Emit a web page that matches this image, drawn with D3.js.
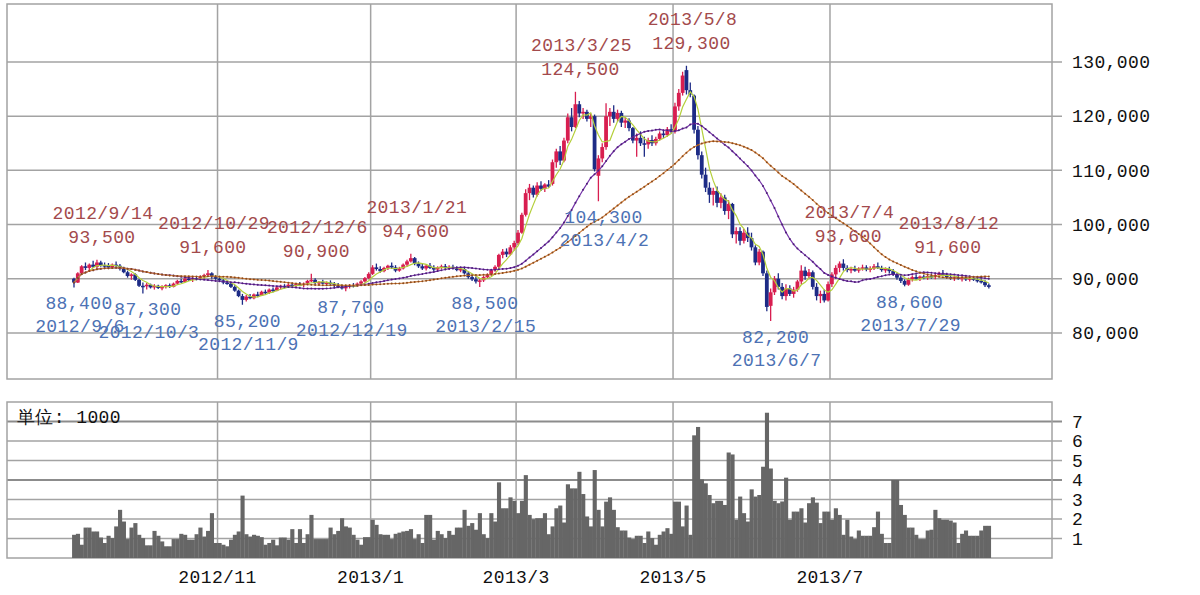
<!DOCTYPE html>
<html>
<head>
<meta charset="utf-8">
<script src="https://cdn.jsdelivr.net/npm/d3@7"></script>
<style>
body { margin: 0; background: #fff; }
svg { display: block; }
text { font-family: "Liberation Mono", "DejaVu Sans Mono", monospace; font-size: 18px; letter-spacing: 0.4px; }
</style>
</head>
<body>
<svg id="chart" width="1200" height="595"><g></g></svg>
<script>
// daily prices (yen), first trading day 2012/9/6
var opens = [
90000,89300,91000,92300,92000,92600,92200,93000,92500,92400,
92100,92600,92400,91800,91200,90500,90800,89800,88700,88600,
88900,88400,88700,88300,88500,88800,88500,89100,89600,89400,
90000,89800,90100,89900,90400,90700,91000,90300,90000,89700,
89300,89100,88500,87800,86800,86100,86700,86400,87100,86900,
87600,87400,88000,87800,88400,88700,88400,88900,88700,89000,
88800,89100,89600,89800,89200,89400,89100,89300,89000,88800,
88500,88300,88500,88800,88600,89100,89500,90100,90900,92100,
91800,91400,92000,92400,92100,91500,91900,92600,93200,93800,
92800,92300,91900,92400,92000,91700,92100,92300,92000,92200,
91900,91600,91800,91000,90300,89900,89500,89700,90300,90800,
91600,92200,94400,95000,94500,95800,96600,98500,101800,105800,
106800,105500,107200,106600,107400,107500,111500,113500,111800,115500,
119800,118000,122200,120500,120800,119500,120000,109000,112200,114300,
120000,120800,119500,120600,118800,119200,117800,115500,116000,115000,
114800,115600,115000,115800,116800,116500,117600,117200,121800,124300,
128500,124800,123800,117500,112800,109200,106800,105500,106200,104000,
105000,102500,103800,98200,98800,97000,98500,97500,95800,93000,
95000,91000,85000,87500,90000,88500,86800,88200,87200,88000,
89500,91500,90500,91200,88500,86800,87200,86000,89000,90800,
92000,92800,92000,91600,91800,91500,91900,92100,91700,91900,
92300,92000,91600,91800,91400,90800,90200,89600,88900,89900,
90300,90100,90400,90200,90500,90300,90700,91000,90800,90300,
90100,90300,90000,90200,89900,90100,89800,89600,89400,88800]
var highs = [
90200,91200,92500,93000,92800,93300,93500,93300,93000,92900,
92800,93200,92700,92200,91500,91000,91000,90000,89300,89200,
89100,89000,88900,88800,89000,89100,89300,89800,90000,90200,
90500,90300,90400,90600,90900,91600,91200,90700,90400,90000,
89600,89400,88800,88000,87200,87000,87200,87300,87600,87800,
88000,88200,88400,88600,88900,89000,89100,89300,89200,89400,
89300,89800,90900,90100,89600,89800,89500,89700,89400,89200,
88900,88700,89000,89200,89300,89700,90300,91200,92500,92800,
92300,92200,92600,93000,92500,92200,92800,93500,94600,94000,
93200,92700,92600,92900,92500,92300,92600,92700,92500,92600,
92300,92100,92000,91400,90800,90400,90000,90500,91000,91800,
92500,94600,95500,95600,96200,97000,99000,102200,106500,107500,
107200,107800,108000,107600,108200,112000,114000,114500,116000,120500,
121500,124500,122800,121500,121200,120500,120300,112800,115000,122400,
121500,122000,121200,121000,119800,119600,118000,116800,117200,116200,
116000,116500,116200,117200,117500,118000,118500,122500,125000,128200,
129300,126200,124000,118200,113500,110500,107800,106800,107000,105800,
105500,104500,104000,99500,99500,99200,99500,98500,96200,95500,
95200,91500,88200,90500,91000,89200,89000,88800,88500,89800,
92500,92200,91800,91500,89200,87800,88000,89500,91200,92500,
93200,93600,92500,92200,92400,92100,92600,92500,92300,92700,
93000,92400,92100,92200,91800,91000,90500,89900,90200,90600,
90800,90600,90700,90800,90900,91000,91300,91600,91100,90700,
90500,90600,90400,90500,90400,90400,90200,90000,89700,89100]
var lows = [
88400,89200,90800,91600,91500,92000,92000,92200,92100,91800,
91900,92200,91500,91000,90200,89800,89600,88500,87300,88000,
88200,88000,88100,87900,88200,88300,88400,88900,89200,89300,
89600,89400,89700,89800,90000,90500,90000,89800,89500,89000,
88900,88300,87600,86600,85200,85800,86200,86200,86600,86800,
87100,87200,87500,87700,88000,88200,88300,88500,88400,88600,
88500,88900,89400,89000,88800,89000,88700,88900,88500,88300,
88000,87700,88200,88400,88500,88900,89300,89900,90700,91500,
91100,91200,91600,91800,91200,91300,91700,92200,93000,92500,
92000,91600,91500,91800,91400,91400,91800,91800,91600,91700,
91400,91200,90800,90000,89600,89100,88500,89400,90000,90500,
91300,92000,93800,94000,94300,95200,96200,98300,101500,104500,
105000,105200,106200,106000,106800,107200,110500,111000,111500,115000,
117200,117800,119800,119500,119000,118000,109800,104300,111500,113800,
118200,118800,119000,118000,117800,117200,115000,112500,114500,112500,
114000,114500,114600,115500,116000,116200,116800,116800,121000,123800,
124000,123500,116800,112000,108500,106000,104000,103500,103200,103000,
101800,101000,97500,96500,96200,96500,96800,95200,92500,92500,
90500,84000,82200,87000,88000,86200,86000,86800,86500,87600,
89000,89800,90000,88000,86000,85500,85600,85800,88500,90000,
91200,91500,91200,91000,91300,91100,91500,91400,91200,91600,
91800,91300,91100,91000,90500,89800,89200,88600,88700,89500,
89800,89600,89900,89800,90000,89900,90300,90500,90000,89800,
89600,89800,89500,89600,89500,89600,89300,89100,88500,88200]
var closes = [
89300,91000,92300,92000,92600,92200,93000,92500,92400,92100,
92600,92400,91800,91200,90500,90800,89800,88700,88600,88900,
88400,88700,88300,88500,88800,88500,89100,89600,89400,90000,
89800,90100,89900,90400,90700,91000,90300,90000,89700,89300,
89100,88500,87800,86800,86100,86700,86400,87100,86900,87600,
87400,88000,87800,88400,88700,88400,88900,88700,89000,88800,
89100,89600,89800,89200,89400,89100,89300,89000,88800,88500,
88300,88500,88800,88600,89100,89500,90100,90900,92100,91800,
91400,92000,92400,92100,91500,91900,92600,93200,93800,92800,
92300,91900,92400,92000,91700,92100,92300,92000,92200,91900,
91600,91800,91000,90300,89900,89500,89700,90300,90800,91600,
92200,94400,95000,94500,95800,96600,98500,101800,105800,106800,
105500,107200,106600,107400,107000,111500,113500,111800,115500,119800,
118000,122200,120500,120800,119500,120000,110200,112200,114300,120000,
120800,119500,120600,118800,119200,117800,115500,116000,115000,114800,
115600,115000,115800,116800,116500,117600,117200,121800,124300,127500,
124800,124000,117500,112800,109200,106800,105500,106200,104000,105000,
102500,103800,98200,98800,97000,98500,97500,95800,93000,95000,
91000,84800,87500,90000,88500,86800,88200,87200,88000,89500,
91500,90500,91200,88500,86800,87200,86000,89000,90800,92000,
92800,92000,91600,91800,91500,91900,92100,91700,91900,92300,
92000,91600,91800,91400,90800,90200,89600,88900,89900,90300,
90100,90400,90200,90500,90300,90700,91000,90800,90300,90100,
90300,90000,90200,89900,90100,89800,89600,89400,88800,88500]
// shares traded per day
var volumes = [
1190,1240,680,1560,1560,1360,1360,1050,770,1140,
1020,1620,2470,1870,970,1560,1790,1190,1020,650,
650,1390,1140,850,600,600,970,970,1240,1190,
940,940,1220,1560,1100,1390,2300,770,770,680,
600,940,1190,1360,3200,1220,1100,1190,1140,1070,
680,770,940,650,1050,1050,940,1480,770,1480,
770,1220,2210,970,970,970,970,1560,1220,1390,
2040,1620,1560,1190,940,680,1070,1070,1960,1700,
1220,1190,1190,970,1240,1300,1360,1390,1480,970,
1220,770,2210,2210,940,1390,1220,1020,1390,1190,
1560,1560,2470,1650,1790,1450,2300,1220,1020,2300,
1870,3880,2550,2550,3110,2930,2300,2930,4250,2210,
1990,2040,2040,2300,1220,1620,2550,2690,1820,3780,
3570,3570,4420,3280,2130,1620,4510,2470,1620,2890,
3110,2470,1580,1410,1410,1050,970,1140,1140,770,
1360,1020,680,1190,1360,1530,1240,2890,2890,1620,
2690,1190,6290,6720,4030,3830,3230,2810,2930,2930,
2720,5410,5310,1960,3150,2300,1870,3520,3150,3230,
4680,7450,4590,2930,2810,2900,4120,1960,2380,2380,
2550,1820,2810,3110,2840,1790,2380,2380,1960,2550,
2210,1190,1960,1100,970,1410,1140,1140,1140,1580,
2380,1240,770,770,4000,4000,2720,2210,1560,1560,
1190,970,970,1410,1450,2470,2040,1960,1960,1920,
1820,770,1240,1410,1140,1140,1140,1410,1650,1650]

var firstDay = '2012-09-06'
var holidays = ['2012-09-17', '2012-10-08', '2012-11-23', '2012-12-24', '2012-12-31',
    '2013-01-01', '2013-01-02', '2013-01-03', '2013-01-14', '2013-02-11', '2013-03-20',
    '2013-04-29', '2013-05-03', '2013-05-06', '2013-07-15']
var monthTicks = ['2012/11', '2013/1', '2013/3', '2013/5', '2013/7']
var priceTicks = [80000, 90000, 100000, 110000, 120000, 130000]
var volumeTicks = [1000, 2000, 3000, 4000, 5000, 6000, 7000]
var highMarks = [['2012/9/14', 93500], ['2012/10/29', 91600], ['2012/12/6', 90900], ['2013/1/21', 94600],
    ['2013/3/25', 124500], ['2013/5/8', 129300], ['2013/7/4', 93600], ['2013/8/12', 91600]]
var lowMarks = [['2012/9/6', 88400], ['2012/10/3', 87300], ['2012/11/9', 85200], ['2012/12/19', 87700],
    ['2013/2/15', 88500], ['2013/4/2', 104300], ['2013/6/7', 82200], ['2013/7/29', 88600]]
var maLines = [[5, '#b4cf3a', null], [25, '#7432a8', '#4e1f78'], [50, '#d08040', '#8a4a1c']]

var svg = d3.select('#chart')
var viewport = svg.select('g')
var top_ = {left: 7, right: 1052, top: 4, bottom: 379}
var vol_ = {top: 402, bottom: 558}
var gridColor = '#a3a3a3'

var parseDay = d3.timeParse('%Y-%m-%d')
var isoDay = d3.timeFormat('%Y-%m-%d')
var dayKey = d3.timeFormat('%Y/%-m/%-d')
var monthKey = d3.timeFormat('%Y/%-m')

var dates = []
var day = parseDay(firstDay)
while (dates.length < closes.length) {
    if (day.getDay() != 0 && day.getDay() != 6 && holidays.indexOf(isoDay(day)) < 0) dates.push(day)
    day = d3.timeDay.offset(day, 1)
}

// one slot per trading day, 17 empty slots before the data
var xs = d3.scaleLinear().domain([-17, 256]).range([top_.left, top_.right])
var step = xs(1) - xs(0)
var cx = i => xs(i) + step / 2
var ys = d3.scaleLinear().domain([71500, 140700]).range([top_.bottom, top_.top])
var yv = d3.scaleLinear().domain([0, 8000]).range([vol_.bottom, vol_.top])

var tickIdx = monthTicks.map(m => dates.findIndex(d => monthKey(d) == m))

// grid
viewport.selectAll('.pgrid').data(priceTicks).enter().append('line')
    .attr('x1', top_.left).attr('x2', top_.right + 10)
    .attr('y1', d => ys(d)).attr('y2', d => ys(d))
    .style('stroke', gridColor).style('stroke-width', 1.5)

viewport.selectAll('.vgrid').data(volumeTicks).enter().append('line')
    .attr('x1', top_.left).attr('x2', top_.right + 10)
    .attr('y1', d => yv(d)).attr('y2', d => yv(d))
    .style('stroke', d => (d == 4000 || d == 7000) ? '#8c8c8c' : gridColor)
    .style('stroke-width', d => (d == 4000 || d == 7000) ? 2.2 : 1.5)

tickIdx.forEach(i => {
    viewport.append('line').attr('x1', xs(i)).attr('x2', xs(i)).attr('y1', top_.top).attr('y2', top_.bottom)
        .style('stroke', gridColor).style('stroke-width', 1.5)
    viewport.append('line').attr('x1', xs(i)).attr('x2', xs(i)).attr('y1', vol_.top).attr('y2', vol_.bottom)
        .style('stroke', gridColor).style('stroke-width', 1.5)
})

viewport.append('rect').attr('x', top_.left).attr('y', top_.top)
    .attr('width', top_.right - top_.left).attr('height', top_.bottom - top_.top)
    .style('fill', 'none').style('stroke', gridColor).style('stroke-width', 1.5)
viewport.append('rect').attr('x', top_.left).attr('y', vol_.top)
    .attr('width', top_.right - top_.left).attr('height', vol_.bottom - vol_.top)
    .style('fill', 'none').style('stroke', gridColor).style('stroke-width', 1.5)

// volume
viewport.selectAll('.vol').data(volumes).enter().append('rect')
    .attr('x', (d, i) => xs(i)).attr('width', step + 0.3)
    .attr('y', d => yv(d)).attr('height', d => yv(0) - yv(d))
    .style('fill', '#666')

viewport.append('text').attr('x', 17).attr('y', 423).text('単位: 1000').style('fill', '#111')

// candles
var candleColor = i => closes[i] > opens[i] ? '#d81e50' : (closes[i] < opens[i] ? '#1d2b86' : '#222')
var candles = viewport.selectAll('.candle').data(d3.range(closes.length)).enter().append('g')
candles.append('line')
    .attr('x1', i => cx(i)).attr('x2', i => cx(i))
    .attr('y1', i => ys(highs[i])).attr('y2', i => ys(lows[i]))
    .style('stroke', candleColor).style('stroke-width', 1.3)
candles.append('rect')
    .attr('x', i => cx(i) - 1.9).attr('width', 3.8)
    .attr('y', i => ys(Math.max(opens[i], closes[i])))
    .attr('height', i => Math.max(1.5, Math.abs(ys(opens[i]) - ys(closes[i]))))
    .style('fill', candleColor)

// moving averages
maLines.forEach(m => {
    var n = m[0]
    var ma = closes.map((c, i) => d3.mean(closes.slice(Math.max(0, i - n + 1), i + 1)))
    var line = d3.line().x((d, i) => cx(i)).y(d => ys(d))
    viewport.append('path').attr('d', line(ma))
        .style('fill', 'none').style('stroke', m[1]).style('stroke-width', 1.2)
    if (m[2]) {
        viewport.selectAll('.dot' + n).data(ma).enter().append('circle')
            .attr('cx', (d, i) => cx(i)).attr('cy', d => ys(d)).attr('r', 1)
            .style('fill', m[2])
    }
})

// high / low notes
var fmt = d3.format(',')
var findDay = k => dates.findIndex(d => dayKey(d) == k)
highMarks.forEach(h => {
    var i = findDay(h[0])
    var g = viewport.append('g').style('fill', '#a34a4c').attr('text-anchor', 'middle')
    g.append('text').attr('x', cx(i) + 6).attr('y', ys(h[1]) - 41).text(h[0])
    g.append('text').attr('x', cx(i) + 5).attr('y', ys(h[1]) - 17).text(fmt(h[1]))
})
lowMarks.forEach(l => {
    var i = findDay(l[0])
    var g = viewport.append('g').style('fill', '#4d72b4').attr('text-anchor', 'middle')
    g.append('text').attr('x', cx(i) + 5).attr('y', ys(l[1]) + 22).text(fmt(l[1]))
    g.append('text').attr('x', cx(i) + 6).attr('y', ys(l[1]) + 45).text(l[0])
})

// axis labels
viewport.selectAll('.plabel').data(priceTicks).enter().append('text')
    .attr('x', top_.right + 20).attr('y', d => ys(d)).attr('dy', '0.35em')
    .style('fill', '#111').text(d => fmt(d))
viewport.selectAll('.vlabel').data(volumeTicks).enter().append('text')
    .attr('x', top_.right + 20).attr('y', d => yv(d)).attr('dy', '0.35em')
    .style('fill', '#111').text(d => d / 1000)
viewport.selectAll('.mlabel').data(monthTicks).enter().append('text')
    .attr('x', (d, k) => xs(tickIdx[k])).attr('y', 583).attr('text-anchor', 'middle')
    .style('fill', '#111').text(d => d)
</script>
</body>
</html>
